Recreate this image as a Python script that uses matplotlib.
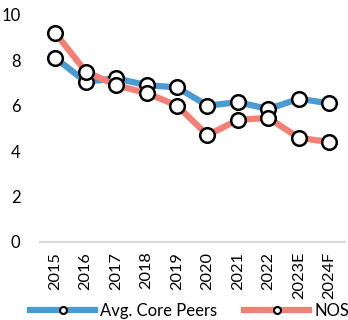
import matplotlib
matplotlib.use("Agg")
import matplotlib.pyplot as plt

years = ["2015", "2016", "2017", "2018", "2019", "2020", "2021", "2022", "2023E", "2024F"]
core_peers = [8.1, 7.05, 7.2, 6.9, 6.8, 6.0, 6.15, 5.85, 6.3, 6.1]
nos = [9.2, 7.5, 6.9, 6.55, 6.0, 4.7, 5.37, 5.46, 4.58, 4.4]

plt.rcParams['font.family'] = ['Lato', 'DejaVu Sans']

fig = plt.figure(figsize=(3.48, 3.20), dpi=100)
ax = fig.add_axes([0.115, 0.244, 0.875, 0.71])

x = list(range(len(years)))
blue = "#4A9BD2"
red = "#F47F74"
mk = dict(marker="o", markersize=10.5, markerfacecolor="white",
          markeredgecolor="black", markeredgewidth=1.8)
ax.plot(x, core_peers, color=blue, lw=4.5, label="Avg. Core Peers", zorder=3, **mk)
ax.plot(x, nos, color=red, lw=4.5, label="NOS", zorder=4, **mk)

ax.set_ylim(0, 10)
ax.set_xlim(-0.5, len(years) - 0.5)
ax.set_yticks([0, 2, 4, 6, 8, 10])
ax.set_xticks(x)
ax.set_xticklabels(years, rotation=90, fontsize=11.8)
ax.tick_params(axis="y", labelsize=12, length=0, pad=14)
ax.tick_params(axis="x", length=0, pad=7)
for s in ["top", "right", "left"]:
    ax.spines[s].set_visible(False)
ax.spines["bottom"].set_color("#d9d9d9")
ax.spines["bottom"].set_linewidth(1.5)

leg_mk = dict(marker="o", markersize=5, markerfacecolor="white",
              markeredgecolor="black", markeredgewidth=1.5)
h1, = ax.plot([], [], color=blue, lw=4.5, **leg_mk)
h2, = ax.plot([], [], color=red, lw=4.5, **leg_mk)
fig.legend([h1, h2], ["Avg. Core Peers", "NOS"], loc="center",
           bbox_to_anchor=(0.545, 0.028), ncol=2, frameon=False, fontsize=12,
           handlelength=3.9, columnspacing=1.6, handletextpad=0.3,
           borderpad=0, borderaxespad=0)

fig.savefig("out.png", dpi=100)
